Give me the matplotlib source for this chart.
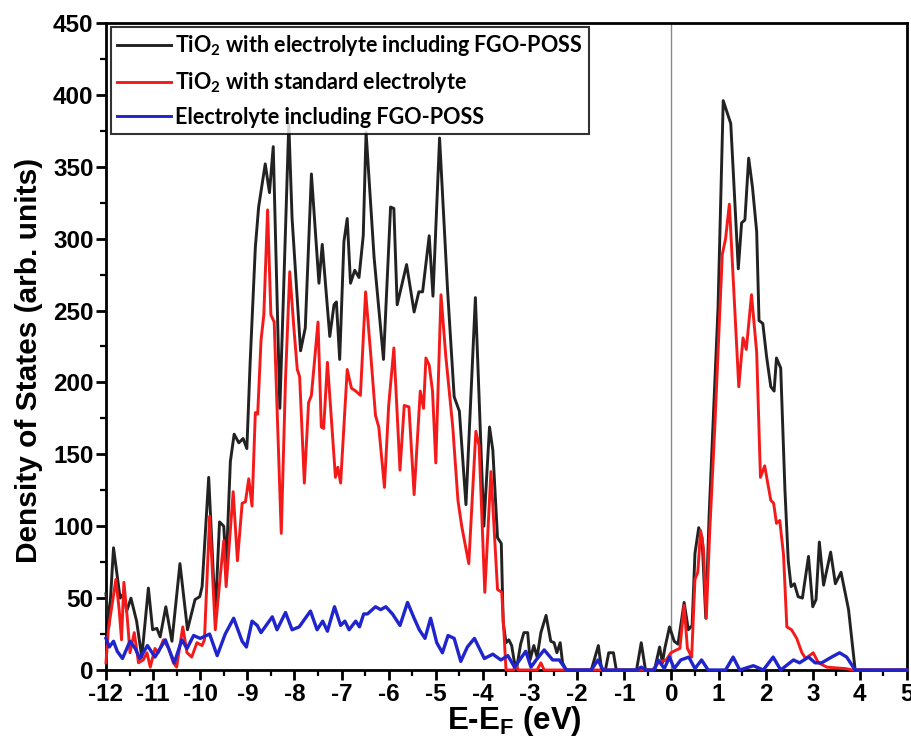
import matplotlib
matplotlib.use("Agg")
import matplotlib.pyplot as plt
from matplotlib.ticker import MultipleLocator

plt.rcParams["axes.unicode_minus"] = False

# TiO2 with electrolyte including FGO-POSS (energy in eV, DOS in arb. units)
black_e = [-12.0, -11.94, -11.84, -11.70, -11.63, -11.56, -11.47, -11.35, -11.24, -11.10,
           -11.01, -10.92, -10.85, -10.73, -10.60, -10.43, -10.27, -10.11, -10.01, -9.96,
           -9.82, -9.68, -9.59, -9.50, -9.45, -9.36, -9.28, -9.18, -9.09, -9.01,
           -8.94, -8.83, -8.76, -8.62, -8.53, -8.45, -8.31, -8.23, -8.12, -8.05,
           -7.87, -7.77, -7.64, -7.48, -7.41, -7.25, -7.16, -7.11, -7.04, -6.95,
           -6.88, -6.81, -6.72, -6.63, -6.54, -6.48, -6.31, -6.11, -5.96, -5.89,
           -5.82, -5.62, -5.46, -5.36, -5.28, -5.14, -5.06, -4.92, -4.75, -4.61,
           -4.50, -4.36, -4.16, -3.98, -3.86, -3.79, -3.69, -3.61, -3.57, -3.51,
           -3.45, -3.39, -3.34, -3.29, -3.20, -3.13, -3.05, -3.00, -2.92, -2.85,
           -2.77, -2.66, -2.56, -2.49, -2.43, -2.36, -2.31, -2.23, -1.70, -1.55,
           -1.48, -1.40, -1.33, -1.23, -1.17, -0.74, -0.64, -0.55, -0.36, -0.25,
           -0.19, -0.14, -0.04, 0.06, 0.14, 0.27, 0.36, 0.44, 0.50, 0.58,
           0.65, 0.73, 0.80, 0.92, 0.99, 1.10, 1.26, 1.42, 1.49, 1.56,
           1.64, 1.72, 1.81, 1.86, 1.94, 2.02, 2.11, 2.18, 2.23, 2.32,
           2.41, 2.48, 2.54, 2.61, 2.69, 2.78, 2.91, 3.00, 3.07, 3.14,
           3.23, 3.38, 3.48, 3.60, 3.76, 3.90, 5.0]
black_dos = [53, 30, 85, 50, 53, 41, 50, 34, 9, 57,
             28, 29, 23, 44, 20, 74, 28, 49, 51, 58,
             134, 38, 103, 100, 71, 145, 164, 158, 161, 154,
             214, 294, 322, 352, 332, 364, 182, 264, 380, 314,
             222, 238, 345, 269, 296, 232, 254, 256, 216, 298,
             314, 269, 278, 273, 302, 374, 287, 216, 322, 321,
             254, 282, 249, 263, 263, 302, 260, 370, 264, 190,
             180, 115, 259, 100, 169, 153, 92, 88, 33, 19,
             21, 17, 7, 0, 18, 26, 26, 7, 17, 9,
             26, 38, 20, 19, 12, 19, 5, 0, 0, 17,
             0, 0, 12, 12, 0, 0, 19, 0, 0, 16,
             5, 15, 30, 20, 18, 47, 28, 31, 81, 99,
             92, 36, 107, 199, 252, 396, 380, 279, 311, 313,
             356, 336, 305, 243, 241, 218, 197, 194, 217, 210,
             125, 76, 58, 60, 51, 50, 79, 44, 49, 89,
             59, 82, 60, 68, 42, 0, 0]

# TiO2 with standard electrolyte
red_e = [-12.0, -11.95, -11.79, -11.72, -11.67, -11.62, -11.55, -11.49, -11.40, -11.31,
         -11.21, -11.13, -11.06, -10.96, -10.89, -10.78, -10.67, -10.57, -10.50, -10.37,
         -10.28, -10.18, -10.07, -9.96, -9.91, -9.80, -9.68, -9.57, -9.50, -9.45,
         -9.30, -9.21, -9.11, -9.04, -8.97, -8.90, -8.83, -8.78, -8.71, -8.65,
         -8.57, -8.50, -8.43, -8.28, -8.19, -8.10, -8.01, -7.94, -7.89, -7.79,
         -7.70, -7.64, -7.50, -7.43, -7.38, -7.30, -7.13, -7.08, -7.02, -6.88,
         -6.79, -6.70, -6.60, -6.49, -6.38, -6.28, -6.21, -6.09, -6.00, -5.89,
         -5.76, -5.67, -5.57, -5.46, -5.33, -5.26, -5.21, -5.14, -5.07, -5.00,
         -4.89, -4.79, -4.64, -4.53, -4.45, -4.30, -4.15, -4.08, -3.96, -3.83,
         -3.69, -3.60, -3.51, -3.35, -3.30, -3.25, -2.85, -2.77, -2.70, -0.40,
         -0.28, -0.11, -0.01, 0.11, 0.18, 0.27, 0.34, 0.43, 0.50, 0.56,
         0.62, 0.68, 0.74, 0.81, 0.92, 0.99, 1.08, 1.15, 1.23, 1.31,
         1.43, 1.52, 1.59, 1.70, 1.81, 1.89, 1.98, 2.11, 2.17, 2.23,
         2.30, 2.38, 2.45, 2.55, 2.66, 2.77, 2.85, 3.01, 3.12, 3.30,
         3.69, 3.85, 5.0]
red_dos = [5, 28, 63, 42, 21, 61, 37, 12, 26, 5,
           7, 12, 2, 15, 12, 21, 15, 5, 2, 30,
           12, 9, 19, 17, 21, 107, 28, 67, 90, 58,
           124, 76, 116, 117, 133, 114, 179, 178, 229, 247,
           320, 247, 242, 95, 202, 277, 237, 209, 204, 130,
           186, 191, 242, 169, 168, 214, 134, 141, 130, 209,
           196, 194, 191, 263, 219, 177, 169, 127, 184, 224,
           139, 184, 183, 122, 194, 182, 217, 212, 194, 144,
           261, 219, 169, 118, 100, 74, 166, 156, 54, 138,
           56, 54, 0, 0, 4, 0, 0, 5, 0, 0,
           5, 7, 12, 14, 15, 45, 15, 9, 63, 68,
           97, 85, 36, 94, 168, 221, 289, 300, 324, 273,
           197, 231, 223, 261, 221, 134, 142, 118, 116, 102,
           104, 80, 30, 28, 22, 12, 8, 12, 5, 2,
           1, 0, 0]

# Electrolyte including FGO-POSS
blue_e = [-12.0, -11.93, -11.84, -11.76, -11.65, -11.49, -11.38, -11.28, -11.12, -10.96,
          -10.74, -10.55, -10.39, -10.28, -10.14, -10.00, -9.80, -9.64, -9.47, -9.29,
          -9.11, -9.02, -8.90, -8.79, -8.71, -8.47, -8.37, -8.19, -8.05, -7.90,
          -7.66, -7.52, -7.40, -7.30, -7.15, -7.02, -6.93, -6.84, -6.70, -6.62,
          -6.53, -6.45, -6.28, -6.17, -6.06, -5.92, -5.76, -5.60, -5.46, -5.35,
          -5.23, -5.11, -4.98, -4.86, -4.74, -4.61, -4.47, -4.33, -4.18, -3.97,
          -3.79, -3.62, -3.47, -3.33, -3.09, -2.98, -2.87, -2.70, -2.52, -2.38,
          -2.23, -1.70, -1.56, -1.45, -0.74, -0.64, -0.55, -0.36, -0.28, -0.15,
          -0.04, 0.06, 0.20, 0.37, 0.50, 0.64, 0.78, 1.15, 1.31, 1.45,
          1.74, 1.95, 2.16, 2.32, 2.59, 2.72, 2.91, 3.05, 3.19, 3.40,
          3.57, 3.72, 3.90, 5.0]
blue_dos = [22, 16, 20, 13, 8, 20, 15, 8, 17, 9,
            21, 5, 21, 15, 24, 22, 25, 10, 25, 36,
            20, 16, 34, 31, 26, 37, 28, 40, 28, 30,
            41, 28, 34, 27, 44, 31, 34, 28, 34, 30,
            39, 39, 44, 42, 44, 39, 31, 47, 36, 28,
            22, 36, 19, 12, 24, 22, 6, 16, 22, 8,
            11, 7, 10, 2, 13, 2, 7, 14, 7, 7,
            0, 0, 7, 0, 0, 2, 0, 0, 7, 1,
            9, 1, 7, 9, 1, 7, 0, 0, 9, 0,
            3, 0, 9, 0, 7, 5, 9, 5, 5, 9,
            12, 9, 0, 0]

labels = ["TiO$_\\mathregular{2}$ with electrolyte including FGO-POSS",
          "TiO$_\\mathregular{2}$ with standard electrolyte",
          "Electrolyte including FGO-POSS"]

tick_font = ["Liberation Sans Narrow", "Liberation Sans", "DejaVu Sans"]
label_font = ["Liberation Sans", "DejaVu Sans"]

fig = plt.figure(figsize=(9.12, 7.41), dpi=100)
ax = fig.add_axes([0.1162, 0.0958, 0.8783, 0.8732])

line_kw = dict(zorder=3, clip_on=False, solid_joinstyle="round")
ax.plot(black_e, black_dos, color="#222222", lw=2.1, label=labels[0], **line_kw)
ax.plot(red_e, red_dos, color="#f51a1a", lw=2.1, label=labels[1], **line_kw)
ax.plot(blue_e, blue_dos, color="#1f24cc", lw=2.4, label=labels[2], **line_kw)
ax.axvline(0, color="#888888", lw=1.0, zorder=1)

ax.set_xlim(-12, 5)
ax.set_ylim(0, 450)
ax.xaxis.set_major_locator(MultipleLocator(1))
ax.xaxis.set_minor_locator(MultipleLocator(0.5))
ax.yaxis.set_major_locator(MultipleLocator(50))
ax.yaxis.set_minor_locator(MultipleLocator(25))

for s in ax.spines.values():
    s.set_linewidth(2.0)
ax.tick_params(which="major", direction="out", length=7, width=2.0, pad=2)
ax.tick_params(which="minor", direction="out", length=4, width=1.6)
for lab in ax.get_xticklabels() + ax.get_yticklabels():
    lab.set_family(tick_font)
    lab.set_fontweight("bold")
    lab.set_fontsize(17.5)

ax.set_ylabel("Density of States (arb. units)", fontsize=21.5, fontweight="bold",
              family=label_font)
ax.yaxis.set_label_coords(-0.079, 0.479)
ax.set_xlabel("E-E$_\\mathregular{F}$ (eV)", fontsize=22.5, fontweight="bold",
              family=label_font)
ax.xaxis.set_label_coords(0.51, -0.053)

leg = ax.legend(loc="upper left", bbox_to_anchor=(0.006, 0.994), frameon=True, fancybox=False,
                edgecolor="black", handlelength=2.5, handletextpad=0.2, borderpad=0.3,
                labelspacing=0.55, borderaxespad=0,
                prop={"family": ["Lato", "DejaVu Sans"], "weight": "bold", "size": 15.5})
leg.get_frame().set_linewidth(1.5)
for h in leg.legend_handles:
    h.set_linewidth(2.1)

fig.savefig("out.png", dpi=100)
